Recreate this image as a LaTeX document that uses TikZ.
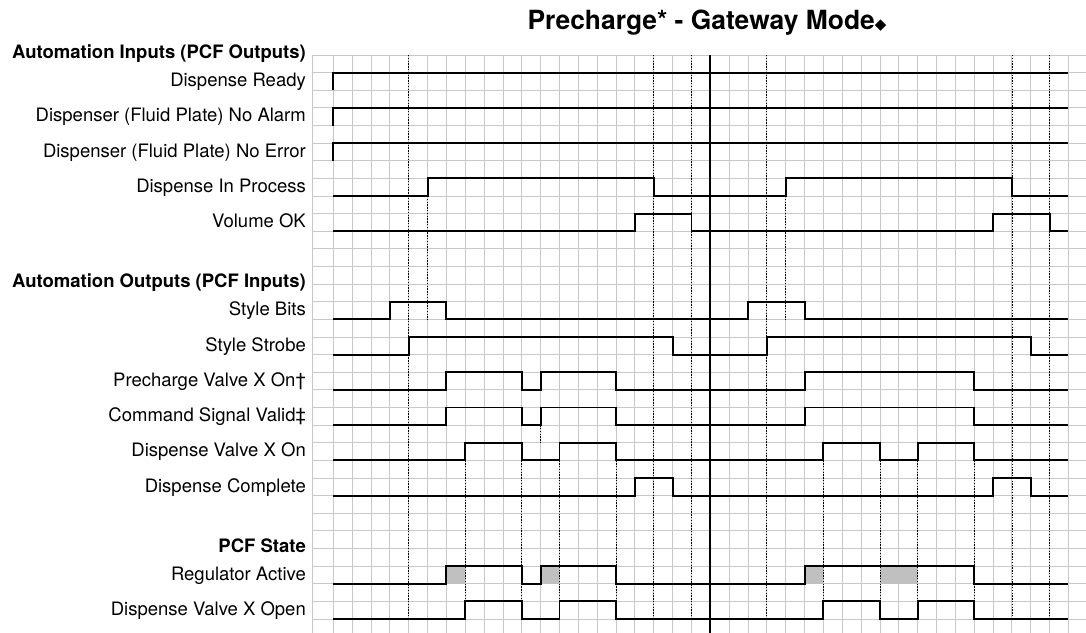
\documentclass[tikz,border=0pt]{standalone}
\usepackage{fontspec}
\setmainfont{TeX Gyre Heros}
\newfontfamily\symfont{DejaVu Sans}
\definecolor{gridgray}{RGB}{200,200,200}
\definecolor{regfill}{RGB}{192,192,192}

\begin{document}
\begin{tikzpicture}[x=18.85pt, y=-17.625pt,
    sig/.style={line width=1.9pt},
    cue/.style={line width=0.8pt, dash pattern=on 1.4pt off 1.4pt},
    gridline/.style={gridgray, line width=0.9pt},
    lbl/.style={anchor=base east, inner sep=0pt, font=\fontsize{18.5}{20}\selectfont},
    hdr/.style={anchor=base east, inner sep=0pt, font=\fontsize{18.5}{20}\selectfont\bfseries}]
    \useasboundingbox (-16.682,-3.1206) rectangle (40.931,32.794);

    % Grid
    \foreach \r in {0,...,32}
        \draw[gridline] (-0.1,\r) -- (40.931,\r);
    \draw[gridline] (-0.1,0) -- (-0.1,32.794);
    \foreach \c in {1,...,40}
        \draw[gridline] (\c,0) -- (\c,32.794);

    % Regulator shading
    \foreach \a/\b in {7/8, 12/13, 26/27, 30/32}
        \fill[regfill] (\a,29) rectangle (\b,30);

    % Cue lines
    \foreach \c in {5,18,20,24,37,39}
        \draw[cue] (\c,0) -- (\c,32);
    \foreach \c in {6,25}
        \draw[cue] (\c,8) -- (\c,15);
    \foreach \c in {8,11,13,16,27,30,32,35}
        \draw[cue] (\c,23) -- (\c,31);
    \draw[cue] (12,21) -- (12,22);

    % Cycle boundary
    \draw[line width=2.2pt] (21,0) -- (21,32.794);

    % Title
    \node[anchor=base, inner sep=0pt, font=\fontsize{26.4}{28}\selectfont\bfseries] (title) at (20.825,-1.475)
        {Precharge* - Gateway Mode{\symfont\fontsize{15}{15}\selectfont ◆}};

    % Automation inputs
    \node[hdr] (hInputs) at (-0.448,0.2) {Automation Inputs (PCF Outputs)};
    \node[lbl] (lReady) at (-0.448,1.8) {Dispense Ready};
    \node[lbl] (lAlarm) at (-0.448,3.8) {Dispenser (Fluid Plate) No Alarm};
    \node[lbl] (lError) at (-0.448,5.8) {Dispenser (Fluid Plate) No Error};
    \node[lbl] (lProcess) at (-0.448,7.8) {Dispense In Process};
    \node[lbl] (lVolume) at (-0.448,9.8) {Volume OK};

    \foreach \r in {1,3,5}
        \draw[sig] (1,\r+1) -- (1,\r) -- (40,\r);
    \draw[sig] (1,8) -| (6,7) -| (18,8) -| (25,7) -| (37,8) -- (40,8);
    \draw[sig] (1,10) -| (17,9) -| (20,10) -| (36,9) -| (39,10) -- (40,10);

    % Automation outputs
    \node[hdr] (hOutputs) at (-0.448,13.2) {Automation Outputs (PCF Inputs)};
    \node[lbl] (lBits) at (-0.448,14.8) {Style Bits};
    \node[lbl] (lStrobe) at (-0.448,16.8) {Style Strobe};
    \node[lbl] (lPrecharge) at (-0.448,18.8) {Precharge Valve X On†};
    \node[lbl] (lCommand) at (-0.448,20.8) {Command Signal Valid‡};
    \node[lbl] (lValveOn) at (-0.448,22.8) {Dispense Valve X On};
    \node[lbl] (lComplete) at (-0.448,24.8) {Dispense Complete};

    \draw[sig] (1,15) -| (4,14) -| (7,15) -| (23,14) -| (26,15) -- (40,15);
    \draw[sig] (1,17) -| (5,16) -| (19,17) -| (24,16) -| (38,17) -- (40,17);
    \draw[sig] (1,19) -| (7,18) -| (11,19) -| (12,18) -| (16,19) -| (26,18) -| (35,19) -- (40,19);
    \draw[sig] (1,21) -| (7,20) -| (11,21) -| (12,20) -| (16,21) -| (26,20) -| (35,21) -- (40,21);
    \draw[sig] (1,23) -| (8,22) -| (11,23) -| (13,22) -| (16,23) -| (27,22) -| (30,23) -| (32,22) -| (35,23) -- (40,23);
    \draw[sig] (1,25) -| (17,24) -| (19,25) -| (36,24) -| (38,25) -- (40,25);

    % PCF state
    \node[hdr] (hState) at (-0.448,28.2) {PCF State};
    \node[lbl] (lRegulator) at (-0.448,29.8) {Regulator Active};
    \node[lbl] (lValveOpen) at (-0.448,31.8) {Dispense Valve X Open};

    \draw[sig] (1,30) -| (7,29) -| (11,30) -| (12,29) -| (16,30) -| (26,29) -| (35,30) -- (40,30);
    \draw[sig] (1,32) -| (8,31) -| (11,32) -| (13,31) -| (16,32) -| (27,31) -| (30,32) -| (32,31) -| (35,32) -- (40,32);
\end{tikzpicture}
\end{document}
